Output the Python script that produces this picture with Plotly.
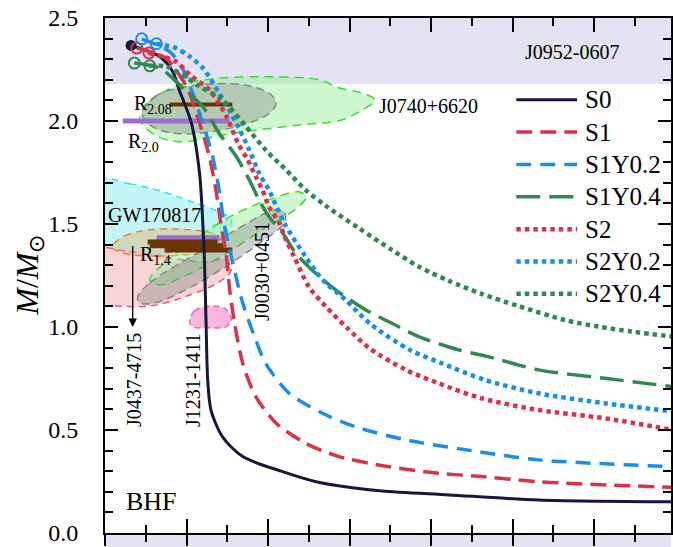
import plotly.graph_objects as go

FONT = "Liberation Serif, Times New Roman, serif"

# ---------------- EoS mass-radius curves (R in km, M in solar masses) ----------------
s0_r = [8.32, 8.67, 8.83, 8.91, 9.06, 9.16, 9.20, 9.22, 9.24, 9.26, 9.30, 9.44, 9.69, 10.18, 10.59, 10.99, 11.40, 12.22, 13.32, 15.0]
s0_m = [2.367, 2.313, 2.240, 2.152, 1.990, 1.747, 1.504, 1.326, 1.018, 0.743, 0.597, 0.468, 0.371, 0.298, 0.249, 0.222, 0.204, 0.185, 0.160, 0.151]

s1_r = [8.39, 8.75, 8.91, 9.02, 9.16, 9.28, 9.36, 9.42, 9.49, 9.53, 9.59, 9.69, 9.85, 10.10, 10.46, 10.87, 11.48, 12.09, 12.66, 13.32, 15.0]
s1_m = [2.354, 2.305, 2.224, 2.152, 1.990, 1.828, 1.666, 1.504, 1.342, 1.180, 1.018, 0.824, 0.662, 0.533, 0.436, 0.371, 0.322, 0.290, 0.273, 0.249, 0.221]

s1y02_r = [8.45, 8.79, 8.95, 9.06, 9.20, 9.32, 9.40, 9.46, 9.55, 9.69, 9.85, 9.97, 10.26, 10.67, 11.07, 11.69, 12.58, 13.32, 15.0]
s1y02_m = [2.399, 2.338, 2.257, 2.152, 1.990, 1.828, 1.666, 1.504, 1.342, 1.116, 0.937, 0.824, 0.678, 0.581, 0.516, 0.452, 0.395, 0.355, 0.321]

s1y04_r = [8.36, 8.67, 8.83, 9.00, 9.20, 9.40, 9.61, 9.77, 9.89, 10.01, 10.18, 10.34, 10.54, 10.83, 11.20, 11.52, 11.85, 12.34, 12.70, 13.32, 14.13, 15.0]
s1y04_m = [2.281, 2.257, 2.208, 2.142, 2.070, 1.941, 1.828, 1.714, 1.617, 1.536, 1.456, 1.358, 1.277, 1.180, 1.083, 1.018, 0.953, 0.889, 0.856, 0.792, 0.751, 0.709]

s2_r = [8.54, 8.87, 9.04, 9.28, 9.49, 9.63, 9.75, 9.85, 9.93, 10.01, 10.14, 10.22, 10.32, 10.50, 10.71, 10.97, 11.24, 11.69, 12.09, 12.62, 13.32, 14.13, 15.0]
s2_m = [2.330, 2.289, 2.224, 2.152, 2.022, 1.893, 1.812, 1.730, 1.666, 1.585, 1.504, 1.423, 1.342, 1.196, 1.099, 0.996, 0.898, 0.792, 0.727, 0.654, 0.597, 0.557, 0.498]

s2y02_r = [8.63, 8.87, 9.04, 9.20, 9.40, 9.61, 9.77, 9.89, 10.01, 10.20, 10.46, 10.67, 10.95, 11.27, 11.74, 12.13, 12.66, 13.32, 14.13, 15.0]
s2y02_m = [2.375, 2.354, 2.313, 2.257, 2.136, 1.990, 1.860, 1.747, 1.666, 1.504, 1.342, 1.229, 1.132, 1.010, 0.889, 0.824, 0.743, 0.678, 0.630, 0.588]

s2y04_r = [8.55, 8.75, 8.95, 9.16, 9.44, 9.73, 9.97, 10.22, 10.46, 10.72, 11.11, 11.52, 11.85, 12.22, 12.62, 13.07, 13.64, 14.05, 14.46, 15.0]
s2y04_m = [2.268, 2.265, 2.224, 2.168, 2.103, 1.973, 1.860, 1.763, 1.666, 1.585, 1.481, 1.374, 1.293, 1.224, 1.161, 1.102, 1.034, 1.002, 0.978, 0.951]

series_names = ["S0", "S1", "S1Y0.2", "S1Y0.4", "S2", "S2Y0.2", "S2Y0.4"]

# ---------------- Observational constraints ----------------
j0952_m = [2.18, 2.5]

gw_cyan_r = [7.875, 8.303, 8.670, 9.037, 9.342, 9.550, 9.501, 9.159, 8.670, 8.181, 7.875]
gw_cyan_m = [1.714, 1.695, 1.661, 1.612, 1.569, 1.520, 1.462, 1.399, 1.350, 1.326, 1.326]

gw_pink_r = [7.875, 8.303, 8.792, 9.220, 9.477, 9.550, 9.403, 8.976, 8.548, 8.120, 7.875]
gw_pink_m = [1.374, 1.365, 1.336, 1.316, 1.326, 1.277, 1.219, 1.146, 1.102, 1.102, 1.112]

gw_orange_r = [8.083, 8.242, 8.548, 9.037, 9.342, 9.477, 9.342, 8.976, 8.548, 8.205]
gw_orange_m = [1.389, 1.442, 1.472, 1.472, 1.452, 1.418, 1.374, 1.350, 1.345, 1.360]

j0740_green_r = [8.43, 8.55, 8.85, 9.34, 10.02, 10.63, 10.87, 11.14, 11.31, 11.12, 10.87, 10.42, 9.61, 8.91, 8.61]
j0740_green_m = [2.006, 2.093, 2.166, 2.205, 2.215, 2.200, 2.161, 2.137, 2.103, 2.045, 2.001, 1.982, 1.943, 1.899, 1.933]

j0740_gray_r = [8.450, 8.609, 8.914, 9.342, 9.770, 10.039, 10.100, 9.990, 9.648, 9.220, 8.792, 8.548]
j0740_gray_m = [2.045, 2.118, 2.161, 2.181, 2.171, 2.127, 2.084, 2.030, 1.977, 1.943, 1.943, 1.982]

j0030_green_r = [8.548, 8.731, 9.159, 9.599, 10.076, 10.381, 10.467, 10.357, 9.929, 9.403, 8.976, 8.670]
j0030_green_m = [1.229, 1.311, 1.442, 1.549, 1.627, 1.656, 1.632, 1.578, 1.472, 1.336, 1.248, 1.204]

j0030_gray_r = [8.401, 8.548, 9.159, 9.648, 10.015, 10.186, 10.210, 9.917, 9.550, 9.037, 8.609, 8.425]
j0030_gray_m = [1.146, 1.214, 1.365, 1.481, 1.559, 1.564, 1.510, 1.413, 1.311, 1.190, 1.117, 1.117]

j1231_r = [9.037, 9.098, 9.281, 9.477, 9.550, 9.477, 9.281, 9.086]
j1231_m = [1.025, 1.078, 1.102, 1.088, 1.034, 1.000, 0.996, 1.000]

# radius bars: (R_min, R_max, M)
r208_bar = (8.792, 9.562, 2.08)
r20_bar = (8.218, 9.526, 2.0)
r14_purple_bar = (8.633, 9.403, 1.433)
r14_brown_bars = [(8.523, 9.379, 1.413), (8.548, 9.465, 1.394), (8.731, 9.562, 1.374)]

j0437_r = 8.34
j0437_m = [1.40, 1.0]

X_MIN, X_MAX = 8.0, 14.944
Y_MIN, Y_MAX = 0.0, 2.5

NAVY = "#17163d"
RED = "#d9334a"
BLUE = "#1b8ee8"
GREEN = "#2f8a50"
BROWN = "#6b3407"
PURPLE = "#9b6fcf"

fig = go.Figure()


def region(r, m, fill, line, dash, width=1.5):
    fig.add_trace(go.Scatter(
        x=r + [r[0]], y=m + [m[0]], mode="lines", fill="toself", fillcolor=fill,
        line=dict(color=line, width=width, dash=dash, shape="spline", smoothing=1.0),
        hoverinfo="skip", showlegend=False))


region(gw_cyan_r, gw_cyan_m, "#c2f6f6", "#3fdcee", "7px,5px")
region(gw_pink_r, gw_pink_m, "#f8d5d5", "#ee4c9c", "7px,5px")
region(gw_orange_r, gw_orange_m, "rgba(228,178,120,0.45)", "#e58a2a", "7px,5px")
region(j0740_green_r, j0740_green_m, "rgba(150,240,150,0.45)", "#33e033", "9px,6px")
region(j0740_gray_r, j0740_gray_m, "rgba(128,128,128,0.38)", "#888888", "8px,5px")
region(j0030_green_r, j0030_green_m, "rgba(150,240,150,0.45)", "#33e033", "9px,6px")
region(j0030_gray_r, j0030_gray_m, "rgba(128,128,128,0.38)", "#888888", "8px,5px")
region(j1231_r, j1231_m, "#f7b6dc", "#ee66bb", "6px,4px")


def hbar(b, color, w):
    fig.add_trace(go.Scatter(x=[b[0], b[1]], y=[b[2], b[2]], mode="lines",
                             line=dict(color=color, width=w), hoverinfo="skip", showlegend=False))


hbar(r208_bar, BROWN, 4)
hbar(r20_bar, PURPLE, 5)
hbar(r14_purple_bar, PURPLE, 5)
for b in r14_brown_bars:
    hbar(b, BROWN, 5)

styles = [
    dict(color=NAVY, width=3, dash="solid"),
    dict(color=RED, width=3.5, dash="16px,8px"),
    dict(color=BLUE, width=3.5, dash="15px,9px"),
    dict(color=GREEN, width=3.5, dash="24px,9px"),
    dict(color=RED, width=4.5, dash="4.5px,4px"),
    dict(color=BLUE, width=4.5, dash="4.5px,4px"),
    dict(color=GREEN, width=4.5, dash="4.5px,4px"),
]
curves = [(s0_r, s0_m), (s1_r, s1_m), (s1y02_r, s1y02_m), (s1y04_r, s1y04_m),
          (s2_r, s2_m), (s2y02_r, s2y02_m), (s2y04_r, s2y04_m)]
symbols = ["circle", "circle-open", "circle-open", "circle-open",
           "circle-open-dot", "circle-open-dot", "circle-open-dot"]

for (r, m), st, name in zip(curves, styles, series_names):
    fig.add_trace(go.Scatter(x=r, y=m, mode="lines", name=name,
                             line=dict(color=st["color"], width=st["width"], dash=st["dash"],
                                       shape="spline", smoothing=0.8),
                             hoverinfo="skip", showlegend=False))

for (r, m), st, sym in zip(curves, styles, symbols):
    fig.add_trace(go.Scatter(x=[r[0]], y=[m[0]], mode="markers",
                             marker=dict(symbol=sym, size=11 if sym != "circle" else 9,
                                         color=st["color"], line=dict(color=st["color"], width=2)),
                             hoverinfo="skip", showlegend=False, cliponaxis=False))

# manual legend (long line samples)
LEG_X0, LEG_X1, LEG_TX = 13.046, 13.792, 13.865
LEG_TOP, LEG_STEP = 2.103, 0.157
for i, (st, name) in enumerate(zip(styles, series_names)):
    yy = LEG_TOP - i * LEG_STEP
    fig.add_trace(go.Scatter(x=[LEG_X0, LEG_X1], y=[yy, yy], mode="lines",
                             line=dict(color=st["color"], width=st["width"], dash=st["dash"]),
                             hoverinfo="skip", showlegend=False))
    fig.add_annotation(x=LEG_TX, y=yy, text=name, showarrow=False, xanchor="left", yanchor="middle",
                       font=dict(family=FONT, size=25, color="black"))

# invisible trace for the overlay axis (outer tick halves)
fig.add_trace(go.Scatter(x=[X_MIN], y=[Y_MIN], xaxis="x2", mode="markers",
                         marker=dict(opacity=0), hoverinfo="skip", showlegend=False))

# bands
fig.add_shape(type="rect", xref="paper", x0=0, x1=1, yref="y", y0=j0952_m[0], y1=j0952_m[1],
              fillcolor="#e3e3f3", line=dict(width=0), layer="below")
fig.add_shape(type="rect", xref="paper", x0=0, x1=1, yref="paper", y0=-0.03, y1=0,
              fillcolor="#e3e3f3", line=dict(width=0), layer="below")

# J0437 arrow
fig.add_annotation(x=j0437_r, y=j0437_m[1], ax=j0437_r, ay=j0437_m[0], axref="x", ayref="y",
                   xref="x", yref="y", text="", showarrow=True, arrowhead=2, arrowsize=1.3,
                   arrowwidth=1.3, arrowcolor="black")

txt = dict(family=FONT, size=20, color="black")
labels = [
    (13.725, 2.335, "J0952-0607", "center", 0),
    (11.335, 2.071, "J0740+6620", "left", 0),
    (8.610, 1.542, "GW170817", "center", 0),
    (8.328, 2.079, "R<sub>2.08</sub>", "left", 0),
    (8.254, 1.897, "R<sub>2.0</sub>", "left", 0),
    (8.401, 1.345, "R<sub>1.4</sub>", "left", 0),
    (9.929, 1.268, "J0030+0451", "center", -90),
    (9.081, 0.743, "J1231-1411", "center", -90),
    (8.358, 0.743, "J0437-4715", "center", -90),
]
for x, y, t, xa, ang in labels:
    fig.add_annotation(x=x, y=y, text=t, showarrow=False, xanchor=xa, yanchor="middle",
                       textangle=ang, font=txt)

fig.add_annotation(x=8.572, y=0.155, text="BHF", showarrow=False, xanchor="center", yanchor="middle",
                   font=dict(family=FONT, size=26, color="black"))

fig.add_annotation(xref="paper", yref="paper", x=(29 - 105) / 568, y=0.5,
                   xanchor="center", yanchor="middle",
                   text="<i>M</i>/<i>M</i><sub>⊙</sub>", textangle=-90, showarrow=False,
                   font=dict(family=FONT, size=32, color="black"))

axis_common = dict(showline=True, linecolor="black", linewidth=2, showgrid=False, zeroline=False,
                   tickcolor="black", tickwidth=2)

fig.update_layout(
    width=673, height=547,
    margin=dict(l=105, r=0, t=18, b=14),
    plot_bgcolor="white", paper_bgcolor="white", showlegend=False,
    xaxis=dict(range=[X_MIN, X_MAX], mirror="ticks", ticks="inside", ticklen=14, tick0=8, dtick=1,
               showticklabels=False,
               minor=dict(ticks="inside", ticklen=8, tickwidth=1.8, tickcolor="black", tick0=8, dtick=0.5,
                          showgrid=False),
               **axis_common),
    xaxis2=dict(range=[X_MIN, X_MAX], overlaying="x", anchor="y", side="bottom", showline=False,
                showgrid=False, zeroline=False, ticks="outside", ticklen=12, tickwidth=2, tickcolor="black",
                tick0=8, dtick=1, showticklabels=False,
                minor=dict(ticks="outside", ticklen=8, tickwidth=1.8, tickcolor="black", tick0=8, dtick=0.5,
                           showgrid=False)),
    yaxis=dict(range=[Y_MIN, Y_MAX], mirror="ticks", ticks="inside", ticklen=13, tick0=0, dtick=0.5,
               tickformat=".1f", tickfont=dict(family=FONT, size=24, color="black"),
               ticklabelstandoff=20,
               minor=dict(ticks="inside", ticklen=8, tickwidth=1.8, tickcolor="black", tick0=0, dtick=0.1,
                          showgrid=False),
               **axis_common),
)

# the page's default body margin would shift the figure by 8px; remove it
fig.write_html("out.html", config={"displayModeBar": False},
               post_script="document.body.style.margin='0';document.body.style.overflow='hidden';")
